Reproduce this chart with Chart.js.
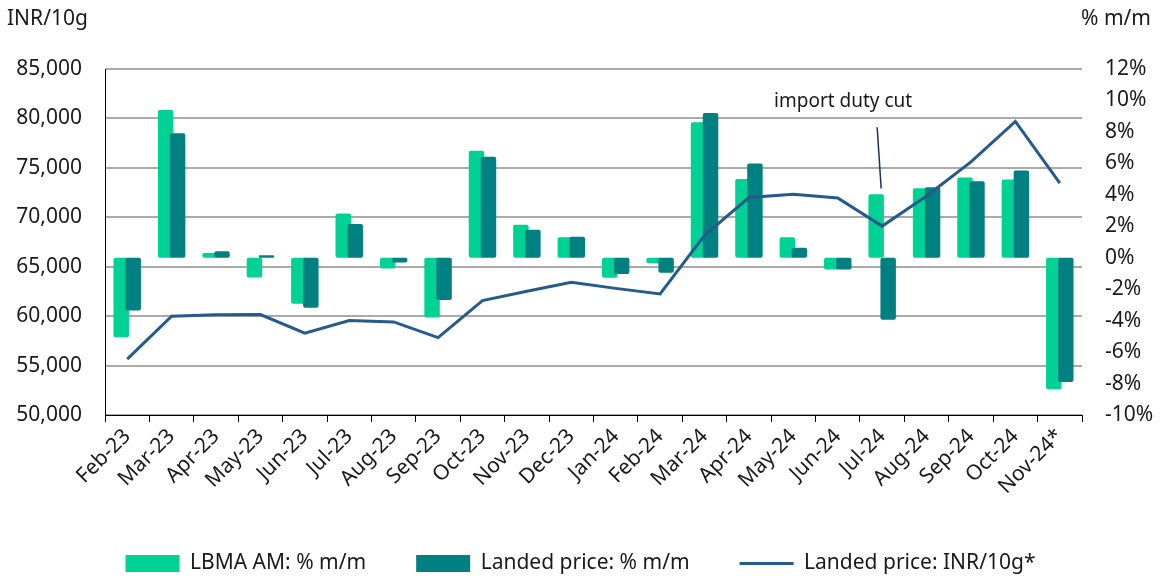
<!DOCTYPE html>
<html>
<head>
<meta charset="utf-8">
<script src="https://cdn.jsdelivr.net/npm/chart.js@4/dist/chart.umd.min.js"></script>
<style>
    html, body { margin: 0; padding: 0; background: #fff; }
    #wrap { width: 1161px; height: 576px; }
</style>
</head>
<body>
<div id="wrap"><canvas id="goldChart"></canvas></div>
<script>
// months on the x axis
const months = ['Feb-23', 'Mar-23', 'Apr-23', 'May-23', 'Jun-23', 'Jul-23', 'Aug-23', 'Sep-23',
    'Oct-23', 'Nov-23', 'Dec-23', 'Jan-24', 'Feb-24', 'Mar-24', 'Apr-24', 'May-24', 'Jun-24',
    'Jul-24', 'Aug-24', 'Sep-24', 'Oct-24', 'Nov-24*'];

// % m/m changes (right axis)
const lbmaChange = [-5.05, 9.4, 0.3, -1.26, -2.92, 2.82, -0.69, -3.8, 6.8, 2.1, 1.3, -1.28, -0.35,
    8.62, 5.0, 1.3, -0.75, 4.03, 4.42, 5.1, 4.97, -8.37];
const landedChange = [-3.35, 7.92, 0.41, 0.15, -3.18, 2.14, -0.31, -2.68, 6.42, 1.78, 1.34, -1.03, -0.96,
    9.2, 5.99, 0.63, -0.75, -3.95, 4.48, 4.86, 5.55, -7.9];

// landed price level (left axis)
const landedPrice = [55650, 60000, 60130, 60160, 58270, 59550, 59420, 57830, 61570, 62510, 63420,
    62810, 62250, 68170, 72000, 72330, 71950, 69110, 72150, 75600, 79700, 73450];

// axis ranges
const priceTicks = { min: 50000, max: 85000, step: 5000 };
const changeTicks = { min: -10, max: 12, step: 2 };

const annotationText = 'import duty cut';
const annotationMonth = 'Jul-24';

const FONT = "'Noto Sans', 'Open Sans', sans-serif";
const TEXT = '#1a1a1a';
const SIZE = 21;

// axis unit labels above each y axis + the callout
const extrasPlugin = {
    id: 'extras',
    afterDraw(chart) {
        const ctx = chart.ctx;
        const x = chart.scales.x;
        const y1 = chart.scales.y1;
        ctx.save();
        ctx.fillStyle = TEXT;
        ctx.font = `${SIZE}px ${FONT}`;
        ctx.textBaseline = 'middle';
        ctx.textAlign = 'left';
        ctx.fillText('INR/10g', 7, 19);
        ctx.textAlign = 'right';
        ctx.fillText('% m/m', 1151, 19);

        // callout for the July 2024 duty cut
        const px = x.getPixelForValue(months.indexOf(annotationMonth));
        ctx.font = `19px ${FONT}`;
        ctx.textAlign = 'center';
        ctx.fillText(annotationText, px - 39, y1.getPixelForValue(9.9));
        ctx.strokeStyle = '#1b3156';
        ctx.lineWidth = 1.5;
        ctx.beginPath();
        ctx.moveTo(px - 5, y1.getPixelForValue(8.3));
        ctx.lineTo(px - 1, y1.getPixelForValue(4.4));
        ctx.stroke();
        ctx.restore();
    }
};

const ctx = document.getElementById('goldChart').getContext('2d');
new Chart(ctx, {
    type: 'bar',
    data: {
        labels: months,
        datasets: [
            {
                label: 'LBMA AM: % m/m',
                data: lbmaChange,
                yAxisID: 'y1',
                backgroundColor: '#00d194',
                borderRadius: 2,
                borderSkipped: false,
                pointStyle: 'rect',
                order: 2
            },
            {
                label: 'Landed price: % m/m',
                data: landedChange,
                yAxisID: 'y1',
                backgroundColor: '#008080',
                borderRadius: 2,
                borderSkipped: false,
                pointStyle: 'rect',
                order: 1
            },
            {
                type: 'line',
                label: 'Landed price: INR/10g*',
                data: landedPrice,
                yAxisID: 'y',
                borderColor: '#245a8c',
                backgroundColor: '#245a8c',
                borderWidth: 3,
                pointRadius: 0,
                pointStyle: 'line',
                tension: 0,
                order: 0
            }
        ]
    },
    options: {
        responsive: true,
        maintainAspectRatio: false,
        animation: false,
        // negative widths flip the slot order so the landed bar sits on the right,
        // overlapping (and drawn over) the LBMA bar like the original
        categoryPercentage: -0.54,
        barPercentage: -1.29,
        layout: { padding: { top: 69, right: 0, left: 0, bottom: -8 } },
        plugins: {
            tooltip: { enabled: false },
            legend: {
                position: 'bottom',
                labels: {
                    font: { family: FONT, size: SIZE },
                    color: TEXT,
                    usePointStyle: true,
                    pointStyleWidth: 54,
                    boxHeight: 17,
                    padding: 50,
                    sort: (a, b) => a.datasetIndex - b.datasetIndex
                }
            }
        },
        scales: {
            x: {
                offset: true,
                grid: { display: true, drawOnChartArea: false, color: '#000', tickLength: 7 },
                border: { display: true, color: '#000', width: 1 },
                ticks: {
                    font: { family: FONT, size: SIZE },
                    color: TEXT,
                    maxRotation: 45,
                    minRotation: 45,
                    autoSkip: false,
                    padding: 2
                },
                afterFit: (scale) => { scale.height = 88; }
            },
            y: {
                position: 'left',
                min: priceTicks.min,
                max: priceTicks.max,
                ticks: {
                    stepSize: priceTicks.step,
                    font: { family: FONT, size: SIZE },
                    color: TEXT,
                    padding: 23,
                    callback: (v) => v.toLocaleString('en-US')
                },
                grid: { color: '#aaaaaa', lineWidth: 2, drawTicks: false },
                border: { display: true, color: '#000', width: 1 },
                afterFit: (scale) => { scale.width = 105; }
            },
            y1: {
                position: 'right',
                min: changeTicks.min,
                max: changeTicks.max,
                ticks: {
                    stepSize: changeTicks.step,
                    font: { family: FONT, size: SIZE },
                    color: TEXT,
                    padding: 23,
                    callback: (v) => v + '%'
                },
                grid: { display: false, drawTicks: false },
                border: { display: false },
                afterFit: (scale) => { scale.width = 79; }
            }
        }
    },
    plugins: [extrasPlugin]
});
</script>
</body>
</html>
